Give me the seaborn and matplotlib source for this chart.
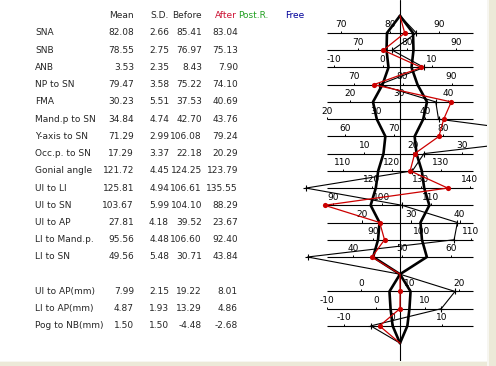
import numpy as np
import pandas as pd
import matplotlib
matplotlib.use("Agg")
import matplotlib.pyplot as plt
import matplotlib.transforms as mtransforms
from matplotlib.patches import Rectangle
import seaborn as sns

# ---------------- data ----------------
labels = ["SNA", "SNB", "ANB", "NP to SN", "FMA", "Mand.p to SN", "Y-axis to SN",
          "Occ.p. to SN", "Gonial angle", "UI to LI", "UI to SN", "UI to AP",
          "LI to Mand.p.", "LI to SN"]
means = [82.08, 78.55, 3.53, 79.47, 30.23, 34.84, 71.29, 17.29, 121.72, 125.81,
         103.67, 27.81, 95.56, 49.56]
sds = [2.66, 2.75, 2.35, 3.58, 5.51, 4.74, 2.99, 3.37, 4.45, 4.94, 5.99, 4.18,
       4.48, 5.48]
before = [85.41, 76.97, 8.43, 75.22, 37.53, 42.70, 106.08, 22.18, 124.25, 106.61,
          104.10, 39.52, 106.60, 30.71]
after = [83.04, 75.13, 7.90, 74.10, 40.69, 43.76, 79.24, 20.29, 123.79, 135.55,
         88.29, 23.67, 92.40, 43.84]

mm_labels = ["UI to AP(mm)", "LI to AP(mm)", "Pog to NB(mm)"]
mm_means = [7.99, 4.87, 1.50]
mm_sds = [2.15, 1.93, 1.50]
mm_before = [19.22, 13.29, -4.48]
mm_after = [8.01, 4.86, -2.68]

headers = ["Mean", "S.D.", "Before"]
legend_names = ["After", "Post.R.", "Free"]

# ---------------- layout / style ----------------
W, H = 496, 366
PX_UNIT = 4.9          # pixels per degree / mm
CX = 400               # pixel x of the centre line
ROW0 = 33              # pixel y of first row
ROWSTEP = 17.23        # pixel spacing of rows
HALF = 14.9            # half length of each scale line (units)
FS = 6.5
RED = "#CC0000"

sns.set_style("white")
plt.rcParams["font.family"] = ["DejaVu Sans"]

fig = plt.figure(figsize=(W / 100, H / 100), dpi=100)
ax = fig.add_axes([0, 0, 1, 1])
ax.set_xlim(-CX / PX_UNIT, (W - CX) / PX_UNIT)
ax.set_ylim((H - ROW0) / ROWSTEP, -ROW0 / ROWSTEP)
ax.axis("off")

n = len(labels)
ang_rows = list(range(n))                 # 0..13
conv_row = n                              # 14
mm_rows = [n + 1 + i for i in range(len(mm_labels))]   # 15..17
apex_row, bottom_row = -1, mm_rows[-1] + 1

all_rows = ang_rows + mm_rows
all_means = means + mm_means
all_sds = sds + mm_sds

# scale lines
ax.hlines(all_rows, -HALF, HALF, color="black", lw=0.8, zorder=1)
ax.axvline(0, ymin=5 / H, color="black", lw=0.8, zorder=1)

# tick labels on each scale
for r, m in zip(all_rows, all_means):
    lo, hi = m - HALF, m + HALF
    t0 = int(np.ceil(lo / 10.0)) * 10
    for t in range(t0, int(np.floor(hi / 10.0)) * 10 + 1, 10):
        ax.vlines(t - m, r - 0.12, r, color="black", lw=0.7, zorder=1)
        ax.text(t - m, r - 0.47, f"{t}", ha="center", va="center", fontsize=FS,
                color="black", zorder=2)

# polygon (mean +/- SD)
y_up = [apex_row] + ang_rows + [conv_row]
y_lo = [conv_row] + mm_rows + [bottom_row]
poly = []
for side, sgn in (("L", -1), ("R", 1)):
    poly.append(pd.DataFrame({"x": [0] + [sgn * s for s in sds] + [0], "y": y_up,
                              "g": side + "u"}))
    poly.append(pd.DataFrame({"x": [0] + [sgn * s for s in mm_sds] + [0], "y": y_lo,
                              "g": side + "l"}))
poly = pd.concat(poly, ignore_index=True)
sns.lineplot(data=poly, x="x", y="y", units="g", estimator=None, sort=False,
             color="black", lw=1.9, ax=ax, zorder=3, legend=False)

# before & after lines
y_full = [apex_row] + ang_rows + [conv_row] + mm_rows + [bottom_row]


def dev(vals, ms):
    return [v - m for v, m in zip(vals, ms)]


bdev = dev(before, means) + dev(mm_before, mm_means)
adev = dev(after, means) + dev(mm_after, mm_means)
bdf = pd.DataFrame({"x": [0] + bdev[:n] + [0] + bdev[n:] + [0], "y": y_full})
adf = pd.DataFrame({"x": [0] + adev[:n] + [0] + adev[n:] + [0], "y": y_full})

sns.lineplot(data=bdf, x="x", y="y", estimator=None, sort=False, color="black",
             lw=0.8, ax=ax, zorder=4)
sns.scatterplot(x=bdev, y=all_rows, marker="+", s=22, color="black",
                linewidth=0.8, ax=ax, zorder=4)
sns.lineplot(data=adf, x="x", y="y", estimator=None, sort=False, color=RED,
             lw=0.9, ax=ax, zorder=5)
sns.scatterplot(x=adev, y=all_rows, marker="o", s=14, color=RED, edgecolor=RED,
                linewidth=0, ax=ax, zorder=5)

# ---------------- table on the left ----------------
tr = mtransforms.blended_transform_factory(ax.transAxes, ax.transData)
lab_x = 35 / W
col_x = [134 / W, 169 / W, 202 / W, 238 / W]

for i, h in enumerate(headers):
    ax.text(col_x[i], apex_row, h, transform=tr, ha="right", va="center",
            fontsize=FS)
ax.text(215 / W, apex_row, legend_names[0], transform=tr, ha="left", va="center",
        fontsize=FS, color="#CC1133")
ax.text(238.5 / W, apex_row, legend_names[1], transform=tr, ha="left", va="center",
        fontsize=FS, color="#22A022")
ax.text(285 / W, apex_row, legend_names[2], transform=tr, ha="left", va="center",
        fontsize=FS, color="#000099")

all_labels = labels + mm_labels
all_before = before + mm_before
all_after = after + mm_after
for r, lab, m, s, b, a in zip(all_rows, all_labels, all_means, all_sds,
                              all_before, all_after):
    ax.text(lab_x, r, lab, transform=tr, ha="left", va="center", fontsize=FS)
    for cx, v in zip(col_x, (m, s, b, a)):
        ax.text(cx, r, f"{v:.2f}", transform=tr, ha="right", va="center",
                fontsize=FS)

# window frame strips (screenshot border)
fig.add_artist(Rectangle((487 / W, 0), 1 - 487 / W, 1, transform=fig.transFigure,
                         facecolor="#ECE9D8", edgecolor="none", zorder=10))
fig.add_artist(Rectangle((487 / W, 0), 2 / W, 1, transform=fig.transFigure,
                         facecolor="#F7F6F1", edgecolor="none", zorder=11))
fig.add_artist(Rectangle((0, 0), 1, 5 / H, transform=fig.transFigure,
                         facecolor="#ECE9D8", edgecolor="none", zorder=10))
fig.add_artist(Rectangle((0, 4 / H), 489 / W, 1 / H, transform=fig.transFigure,
                         facecolor="#F7F6F1", edgecolor="none", zorder=11))

fig.savefig("out.png", dpi=100)
